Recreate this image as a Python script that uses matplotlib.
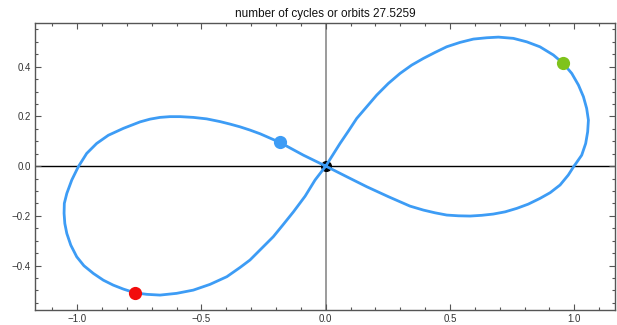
import matplotlib
matplotlib.use("Agg")
import matplotlib.pyplot as plt
from matplotlib.ticker import MultipleLocator, FuncFormatter

plt.rcParams['font.family'] = ['Liberation Sans', 'DejaVu Sans']

title = "number of cycles or orbits 27.5259"

# orbit trace (ordered along the path)
orbit_x = [0.000, 0.0575, 0.0911, 0.1246, 0.1649, 0.2051, 0.2520, 0.2990, 0.3459,
           0.3929, 0.4398, 0.4868, 0.5404, 0.5941, 0.6477, 0.695, 0.755, 0.809,
           0.862, 0.916, 0.956, 0.990, 1.017, 1.037, 1.050, 1.057, 1.054, 1.046,
           1.030, 1.007, 0.999, 0.976, 0.943, 0.903, 0.862, 0.815, 0.769, 0.722,
           0.674, 0.628, 0.581, 0.534, 0.487, 0.440, 0.393, 0.339, 0.252, 0.165,
           0.085, 0.000, -0.090, -0.184, -0.264, -0.305, -0.345, -0.385, -0.425,
           -0.479, -0.533, -0.586, -0.627, -0.667, -0.707, -0.747, -0.814, -0.875,
           -0.922, -0.962, -0.996, -1.022, -1.042, -1.052, -1.053, -1.050, -1.042,
           -1.026, -1.002, -0.973, -0.935, -0.895, -0.855, -0.814, -0.767, -0.720,
           -0.667, -0.600, -0.533, -0.466, -0.398, -0.345, -0.305, -0.258, -0.211,
           -0.171, -0.130, -0.083, -0.043, 0.000]
orbit_y = [0.000, 0.0912, 0.1408, 0.1918, 0.2388, 0.2857, 0.3327, 0.3729, 0.4064,
           0.4333, 0.4574, 0.4802, 0.4977, 0.5111, 0.5164, 0.519, 0.514, 0.500,
           0.480, 0.447, 0.413, 0.373, 0.326, 0.279, 0.232, 0.185, 0.138, 0.091,
           0.044, 0.011, 0.000, -0.036, -0.076, -0.107, -0.130, -0.153, -0.170, -0.184,
           -0.193, -0.198, -0.201, -0.200, -0.197, -0.188, -0.177, -0.161, -0.123, -0.083,
           -0.043, 0.000, 0.044, 0.095, 0.130, 0.145, 0.158, 0.169, 0.179,
           0.190, 0.196, 0.199, 0.199, 0.196, 0.189, 0.178, 0.152, 0.124,
           0.091, 0.051, -0.003, -0.056, -0.110, -0.150, -0.190, -0.231, -0.271,
           -0.318, -0.365, -0.401, -0.432, -0.459, -0.479, -0.495, -0.510, -0.516,
           -0.519, -0.512, -0.499, -0.476, -0.445, -0.408, -0.378, -0.331, -0.284,
           -0.235, -0.184, -0.121, -0.056, 0.000]

# bodies
body_x = [-0.767, -0.184, 0.956]
body_y = [-0.512, 0.097, 0.414]
body_colors = ['#f20d0d', '#3d9cf5', '#7fc31c']
center_x = [0.0]
center_y = [0.0]

fig = plt.figure(figsize=(6.17, 3.25), dpi=100)
ax = fig.add_axes([35/617, 15.5/325, 580/617, 286.8/325])

ax.axhline(0, color='black', lw=1.0, zorder=1)
ax.axvline(0, color='#8a8a8a', lw=1.2, zorder=1)

ax.plot(center_x, center_y, 'o', color='black', ms=7, zorder=2)
ax.plot(orbit_x, orbit_y, color='#3d9cf5', lw=2.0, zorder=3,
        solid_joinstyle='round', solid_capstyle='round')
for bx, by, c in zip(body_x, body_y, body_colors):
    ax.plot([bx], [by], 'o', color=c, ms=9.5, zorder=4, mec='none')

ax.set_xlim(-1.170, 1.164)
ax.set_ylim(-0.577, 0.577)

ax.xaxis.set_major_locator(MultipleLocator(0.5))
ax.xaxis.set_minor_locator(MultipleLocator(0.1))
ax.yaxis.set_major_locator(MultipleLocator(0.2))
ax.yaxis.set_minor_locator(MultipleLocator(0.05))

fmt = FuncFormatter(lambda v, p: ("%.1f" % v).replace('-', '\u2212') if abs(v) > 1e-9 else "0.0")
ax.xaxis.set_major_formatter(fmt)
ax.yaxis.set_major_formatter(fmt)

ax.tick_params(which='both', direction='in', top=True, right=True,
               color='#555555', labelsize=7, labelcolor='#333333', width=0.8)
ax.tick_params(which='major', length=4, pad=3)
ax.tick_params(which='minor', length=2)

for s in ax.spines.values():
    s.set_color('#555555')
    s.set_linewidth(1.0)

ax.set_title(title, fontsize=8.5, pad=4, color='#111111')

fig.savefig('out.png', dpi=100)
